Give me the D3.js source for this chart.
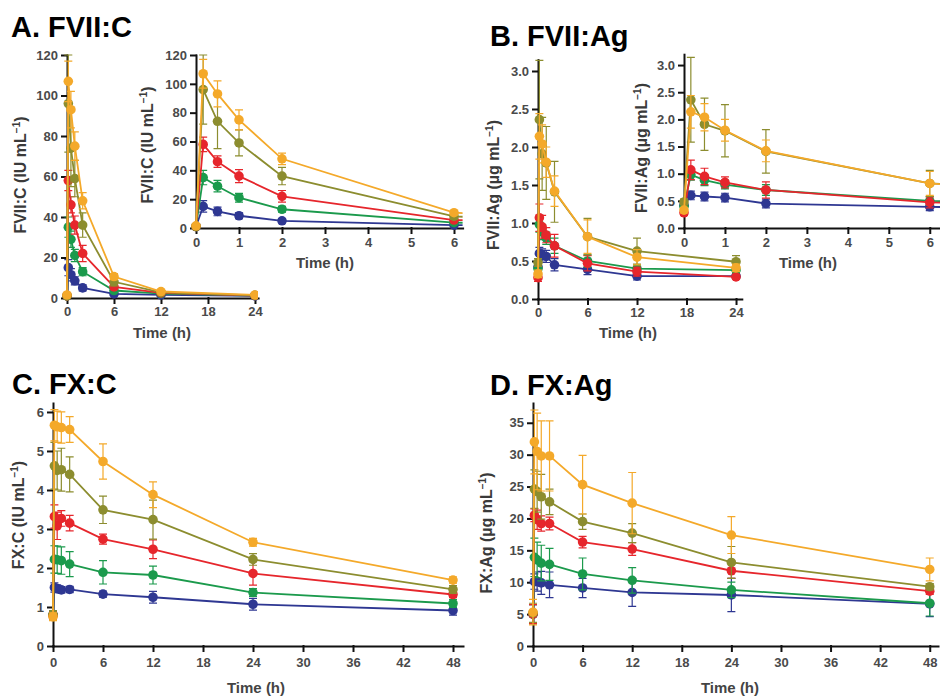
<!DOCTYPE html>
<html>
<head>
<meta charset="utf-8">
<script src="https://cdn.jsdelivr.net/npm/d3@7"></script>
<style>
body { margin: 0; background: #fff; }
svg { display: block; font-family: "Liberation Sans", Arial, sans-serif; }
.axis .tick text { font-size: 13px; font-weight: bold; fill: #4a4a4a; }
.axis path, .axis line { stroke: #111; stroke-width: 2; stroke-linecap: square; }
.title { font-size: 29px; font-weight: bold; fill: #000; }
.xlab { font-size: 15px; font-weight: bold; fill: #444; }
.ylab { font-size: 16px; font-weight: bold; fill: #3a3a3a; }
</style>
</head>
<body>
<svg id="chart"></svg>
<script>
// sampling times (h)
const timesFVII = [0, 0.167, 0.5, 1, 2, 6, 12, 24];
const timesFX = [0, 0.167, 0.5, 1, 2, 6, 12, 24, 48];

// dose groups, low -> high (blue, green, red, olive, orange)
const groups = ["g1", "g2", "g3", "g4", "g5"];
const groupColors = ["#2e3792", "#1b9a4c", "#e6262c", "#8c8d2f", "#f4a92a"];

// A. FVII:C (IU/mL) mean and SD
const fviiCMean = [
	[1, 15, 11.5, 8.5, 5, 2, 1.5, 1],
	[1, 35, 29, 21, 13, 3.7, 2.2, 1.2],
	[1, 58, 46, 36, 22, 5.5, 2.5, 1.2],
	[1, 96, 74, 59, 36, 8, 2.8, 1.3],
	[1.5, 107, 93, 75, 48, 10.6, 3.2, 1.5],
];
const fviiCSd = [
	[0.5, 4, 3, 2, 1.5, 0.8, 0.5, 0.3],
	[0.5, 5, 4, 3, 2, 1, 0.5, 0.3],
	[0.5, 5, 4, 4.5, 4, 1.2, 0.6, 0.3],
	[0.5, 24, 19, 9, 6, 2, 0.8, 0.3],
	[0.5, 10, 9, 7, 4, 1.5, 0.8, 0.4],
];

// B. FVII:Ag (ug/mL)
const fviiAgMean = [
	[0.42, 0.6, 0.58, 0.56, 0.45, 0.39, 0.3, 0.3],
	[0.4, 0.98, 0.88, 0.8, 0.7, 0.5, 0.4, 0.38],
	[0.28, 1.07, 0.95, 0.84, 0.7, 0.47, 0.36, 0.29],
	[0.48, 2.36, 1.91, 1.79, 1.41, 0.82, 0.63, 0.49],
	[0.33, 2.14, 2.04, 1.8, 1.42, 0.82, 0.55, 0.41],
];
const fviiAgSd = [
	[0.05, 0.08, 0.08, 0.08, 0.08, 0.07, 0.05, 0.03],
	[0.05, 0.1, 0.1, 0.08, 0.1, 0.08, 0.05, 0.03],
	[0.05, 0.18, 0.15, 0.1, 0.15, 0.1, 0.06, 0.03],
	[0.05, 0.78, 0.48, 0.48, 0.4, 0.24, 0.17, 0.08],
	[0.05, 0.3, 0.25, 0.2, 0.2, 0.22, 0.1, 0.05],
];

// C. FX:C (IU/mL)
const fxCMean = [
	[0.8, 1.5, 1.47, 1.44, 1.45, 1.33, 1.25, 1.07, 0.91],
	[0.8, 2.22, 2.21, 2.19, 2.1, 1.89, 1.82, 1.37, 1.09],
	[0.78, 3.32, 3.08, 3.27, 3.15, 2.74, 2.48, 1.86, 1.32],
	[0.8, 4.62, 4.5, 4.52, 4.4, 3.49, 3.24, 2.22, 1.45],
	[0.75, 5.66, 5.62, 5.6, 5.55, 4.73, 3.88, 2.66, 1.69],
];
const fxCSd = [
	[0.1, 0.12, 0.1, 0.08, 0.08, 0.08, 0.15, 0.15, 0.12],
	[0.1, 0.35, 0.35, 0.35, 0.32, 0.3, 0.23, 0.1, 0.1],
	[0.1, 0.3, 0.35, 0.2, 0.2, 0.13, 0.24, 0.3, 0.08],
	[0.1, 0.6, 0.5, 0.55, 0.45, 0.35, 0.5, 0.15, 0.1],
	[0.1, 0.4, 0.4, 0.4, 0.33, 0.45, 0.33, 0.1, 0.08],
];

// D. FX:Ag (ug/mL)
const fxAgMean = [
	[5, 10.1, 10.1, 9.9, 9.6, 9.1, 8.4, 8.0, 6.6],
	[5, 13.9, 13.5, 13.0, 12.8, 11.3, 10.3, 8.8, 6.7],
	[5, 20.5, 19.8, 19.2, 19.2, 16.3, 15.2, 11.8, 8.6],
	[5.2, 24.6, 24.2, 23.4, 22.6, 19.5, 17.7, 13.1, 9.3],
	[5.3, 32.0, 30.5, 29.8, 29.8, 25.3, 22.4, 17.4, 12.0],
];
const fxAgSd = [
	[1.5, 1.2, 1.5, 1.8, 2.0, 1.5, 2.2, 2.6, 2.0],
	[1.5, 3.0, 2.8, 2.8, 2.5, 2.5, 2.0, 1.2, 2.0],
	[1.5, 1.0, 1.5, 1.2, 1.0, 0.9, 1.0, 1.2, 0.5],
	[1.5, 3.0, 3.2, 3.5, 2.0, 1.2, 1.5, 2.5, 0.5],
	[2.0, 5.0, 6.0, 5.5, 5.5, 4.6, 4.8, 2.9, 1.8],
];

// tick values
const ticksH24 = [0, 6, 12, 18, 24];
const ticksH6 = [0, 1, 2, 3, 4, 5, 6];
const ticksH48 = [0, 6, 12, 18, 24, 30, 36, 42, 48];
const ticksFviiC = [0, 20, 40, 60, 80, 100, 120];
const ticksFviiAg = [0, 0.5, 1.0, 1.5, 2.0, 2.5, 3.0];
const ticksFxC = [0, 1, 2, 3, 4, 5, 6];
const ticksFxAg = [0, 5, 10, 15, 20, 25, 30, 35];

const svg = d3.select("#chart").attr("width", 940).attr("height", 696);

// panel titles
svg.append("text").attr("class", "title").attr("x", 11).attr("y", 37).text("A. FVII:C");
svg.append("text").attr("class", "title").attr("x", 490).attr("y", 46).text("B. FVII:Ag");
svg.append("text").attr("class", "title").attr("x", 12).attr("y", 394).text("C. FX:C");
svg.append("text").attr("class", "title").attr("x", 490).attr("y", 395).text("D. FX:Ag");

const fInt = d3.format("d");
const f1 = d3.format(".1f");

// draws one set of axes with all five groups
function drawPanel(p) {
	const g = svg.append("g");
	const x = d3.scaleLinear().domain(p.xDomain).range(p.xRange);
	const y = d3.scaleLinear().domain(p.yDomain).range(p.yRange);

	g.append("g")
		.attr("class", "axis")
		.attr("transform", "translate(0," + p.yRange[0] + ")")
		.call(d3.axisBottom(x).tickValues(p.xTicks).tickFormat(fInt).tickSize(5).tickPadding(p.xPad).tickSizeOuter(0));
	g.append("g")
		.attr("class", "axis")
		.attr("transform", "translate(" + p.xRange[0] + ",0)")
		.call(d3.axisLeft(y).tickValues(p.yTicks).tickFormat(p.yFormat).tickSize(5).tickPadding(4).tickSizeOuter(0));

	// clip data at the end of the x axis (insets only show the first hours)
	g.append("clipPath")
		.attr("id", p.id)
		.append("rect")
		.attr("x", p.xRange[0] - 10)
		.attr("y", p.yRange[1] - 30)
		.attr("width", p.xRange[1] - p.xRange[0] + 10)
		.attr("height", p.yRange[0] - p.yRange[1] + 40);
	const plot = g.append("g").attr("clip-path", "url(#" + p.id + ")");

	const line = d3.line().x((d) => x(d.t)).y((d) => y(d.m));

	groups.forEach((name, i) => {
		const pts = p.times.map((t, j) => ({ t: t, m: p.mean[i][j], s: p.sd[i][j] }));
		const col = groupColors[i];
		const sg = plot.append("g").attr("class", "group-" + name);
		sg.append("path").datum(pts).attr("d", line).attr("fill", "none").attr("stroke", col).attr("stroke-width", 1.8);
		sg.selectAll(".eb")
			.data(pts)
			.join("path")
			.attr("class", "eb")
			.attr("d", (d) => {
				const xx = x(d.t), y1 = y(d.m + d.s), y2 = y(d.m - d.s);
				return `M${xx - 4},${y1}H${xx + 4}M${xx},${y1}V${y2}M${xx - 4},${y2}H${xx + 4}`;
			})
			.attr("fill", "none")
			.attr("stroke", col)
			.attr("stroke-width", 1.2);
		sg.selectAll("circle")
			.data(pts)
			.join("circle")
			.attr("cx", (d) => x(d.t))
			.attr("cy", (d) => y(d.m))
			.attr("r", 4.8)
			.attr("fill", col);
	});

	// axis titles
	svg.append("text")
		.attr("class", "xlab")
		.attr("x", p.xLab[0])
		.attr("y", p.xLab[1])
		.attr("text-anchor", "middle")
		.text("Time (h)");
	const yl = svg.append("text")
		.attr("class", "ylab")
		.attr("text-anchor", "middle")
		.attr("transform", "translate(" + p.yLab[0] + "," + p.yLab[1] + ") rotate(-90)")
		.attr("dy", "0.35em");
	yl.append("tspan").text(p.yText + " (" + p.unit + " mL");
	yl.append("tspan").attr("dy", -6).style("font-size", "10px").text("\u22121");
	yl.append("tspan").attr("dy", 6).text(")");
}

// A main + inset
drawPanel({ id: "cA", times: timesFVII, mean: fviiCMean, sd: fviiCSd,
	xDomain: [0, 24.4], xRange: [67, 258.1], yDomain: [0, 120], yRange: [298, 55],
	xTicks: ticksH24, yTicks: ticksFviiC, yFormat: fInt, xPad: 4,
	xLab: [162, 338], yLab: [20.5, 175], yText: "FVII:C", unit: "IU" });
drawPanel({ id: "cAi", times: timesFVII, mean: fviiCMean, sd: fviiCSd,
	xDomain: [0, 6.2], xRange: [196, 462.6], yDomain: [0, 120], yRange: [228, 55],
	xTicks: ticksH6, yTicks: ticksFviiC, yFormat: fInt, xPad: 5,
	xLab: [325, 268], yLab: [147.5, 145], yText: "FVII:C", unit: "IU" });

// B main + inset
drawPanel({ id: "cB", times: timesFVII, mean: fviiAgMean, sd: fviiAgSd,
	xDomain: [0, 24.7], xRange: [538, 741.8], yDomain: [0, 3.15], yRange: [299, 59.6],
	xTicks: ticksH24, yTicks: ticksFviiAg, yFormat: f1, xPad: 4,
	xLab: [628, 338], yLab: [493.5, 185], yText: "FVII:Ag", unit: "\u00b5g" });
drawPanel({ id: "cBi", times: timesFVII, mean: fviiAgMean, sd: fviiAgSd,
	xDomain: [0, 6.25], xRange: [684, 940], yDomain: [0, 3.2], yRange: [228, 54.2],
	xTicks: ticksH6, yTicks: ticksFviiAg, yFormat: f1, xPad: 5,
	xLab: [808, 268], yLab: [641.5, 148], yText: "FVII:Ag", unit: "\u00b5g" });

// C
drawPanel({ id: "cC", times: timesFX, mean: fxCMean, sd: fxCSd,
	xDomain: [0, 49.2], xRange: [53, 463], yDomain: [0, 6.23], yRange: [646, 403],
	xTicks: ticksH48, yTicks: ticksFxC, yFormat: fInt, xPad: 7,
	xLab: [256, 693], yLab: [18.5, 515], yText: "FX:C", unit: "IU" });

// D
drawPanel({ id: "cD", times: timesFX, mean: fxAgMean, sd: fxAgSd,
	xDomain: [0, 49], xRange: [533, 938], yDomain: [0, 38.1], yRange: [646, 403],
	xTicks: ticksH48, yTicks: ticksFxAg, yFormat: fInt, xPad: 7,
	xLab: [730, 693], yLab: [486.5, 533], yText: "FX:Ag", unit: "\u00b5g" });
</script>
</body>
</html>
